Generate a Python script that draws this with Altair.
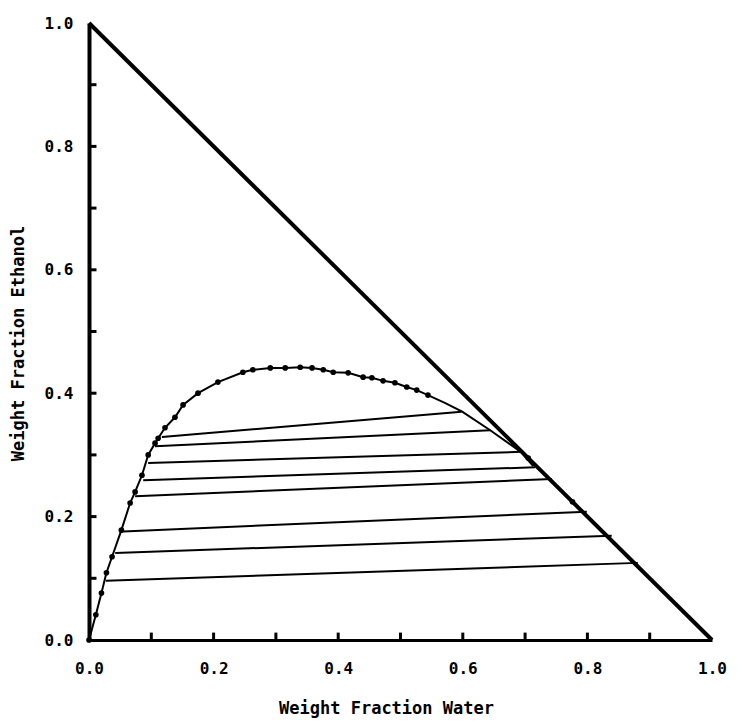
import altair as alt
import pandas as pd

# Binodal curve points (dotted)
dot_x = [0.000, 0.011, 0.020, 0.028, 0.037, 0.052, 0.066, 0.074, 0.085, 0.095,
         0.106, 0.111, 0.122, 0.138, 0.151, 0.175, 0.207, 0.247, 0.263, 0.291,
         0.315, 0.339, 0.358, 0.376, 0.392, 0.416, 0.440, 0.454, 0.472, 0.491,
         0.510, 0.526, 0.544]
dot_y = [0.000, 0.041, 0.076, 0.109, 0.135, 0.178, 0.222, 0.240, 0.267, 0.300,
         0.319, 0.327, 0.344, 0.361, 0.381, 0.400, 0.418, 0.434, 0.438, 0.441,
         0.441, 0.442, 0.441, 0.438, 0.434, 0.433, 0.426, 0.425, 0.420, 0.417,
         0.410, 0.405, 0.397]
# Rest of the curve (no dots) down to the water-rich edge
tail_x = [0.572, 0.599, 0.644, 0.693, 0.713]
tail_y = [0.384, 0.370, 0.340, 0.305, 0.282]
# Extra points on the water-rich edge
edge_dot_x = [0.705, 0.776]
edge_dot_y = [0.295, 0.224]

# Tie lines
tie_left_x = [0.117, 0.106, 0.095, 0.087, 0.074, 0.055, 0.042, 0.027]
tie_left_y = [0.329, 0.314, 0.287, 0.259, 0.233, 0.176, 0.141, 0.096]
tie_right_x = [0.598, 0.644, 0.695, 0.716, 0.743, 0.799, 0.839, 0.881]
tie_right_y = [0.370, 0.340, 0.305, 0.280, 0.261, 0.208, 0.169, 0.125]

# Triangle edge
edge_x = [0.0, 1.0]
edge_y = [1.0, 0.0]

label_values = [0.0, 0.2, 0.4, 0.6, 0.8, 1.0]
minor_ticks = [0.1, 0.2, 0.3, 0.4, 0.5, 0.6, 0.7, 0.8, 0.9]
tick_len = 0.012

FONT = "DejaVu Sans Mono"

curve_df = pd.DataFrame({
    "x": dot_x + tail_x,
    "y": dot_y + tail_y,
    "o": list(range(len(dot_x) + len(tail_x))),
})
dots_df = pd.DataFrame({"x": dot_x + edge_dot_x, "y": dot_y + edge_dot_y})
ties_df = pd.DataFrame({"x": tie_left_x, "y": tie_left_y,
                        "x2": tie_right_x, "y2": tie_right_y})
edge_df = pd.DataFrame({"x": edge_x, "y": edge_y, "o": [0, 1]})
xt_df = pd.DataFrame({"x": minor_ticks, "y": [0.0] * len(minor_ticks),
                      "y2": [tick_len] * len(minor_ticks)})
yt_df = pd.DataFrame({"y": minor_ticks, "x": [0.0] * len(minor_ticks),
                      "x2": [tick_len] * len(minor_ticks)})

xscale = alt.Scale(domain=[0, 1], nice=False)
yscale = alt.Scale(domain=[0, 1], nice=False)

xaxis = alt.Axis(values=label_values, format=".1f", ticks=False, tickSize=0,
                 grid=False, labelPadding=20, labelFlush=False,
                 title="Weight Fraction Water",
                 titlePadding=24, titleX=297, domainWidth=3)
yaxis = alt.Axis(values=label_values, format=".1f", ticks=False, tickSize=0,
                 grid=False, labelPadding=16, labelFlush=False,
                 title="Weight Fraction Ethanol",
                 titlePadding=17, titleY=320, domainWidth=4)

base_x = alt.X("x:Q", scale=xscale, axis=xaxis)
base_y = alt.Y("y:Q", scale=yscale, axis=yaxis)

edge = alt.Chart(edge_df).mark_line(color="black", strokeWidth=4).encode(
    x=base_x, y=base_y, order="o:Q")
curve = alt.Chart(curve_df).mark_line(color="black", strokeWidth=2).encode(
    x="x:Q", y="y:Q", order="o:Q")
dots = alt.Chart(dots_df).mark_circle(color="black", size=32, opacity=1).encode(
    x="x:Q", y="y:Q")
ties = alt.Chart(ties_df).mark_rule(color="black", strokeWidth=2).encode(
    x="x:Q", y="y:Q", x2="x2:Q", y2="y2:Q")
xticks = alt.Chart(xt_df).mark_rule(color="black", strokeWidth=3).encode(
    x="x:Q", y="y:Q", y2="y2:Q")
yticks = alt.Chart(yt_df).mark_rule(color="black", strokeWidth=3).encode(
    y="y:Q", x="x:Q", x2="x2:Q")

chart = alt.layer(edge, curve, ties, dots, xticks, yticks).properties(
    width=623, height=617,
    autosize=alt.AutoSizeParams(type="none"),
    padding={"left": 89, "top": 23, "right": 26, "bottom": 85},
    background="white",
).configure_view(stroke=None).configure_axis(
    labelFont=FONT, labelFontSize=16, labelFontWeight="bold", labelColor="black",
    titleFont=FONT, titleFontSize=17, titleFontWeight="bold", titleColor="black",
    domainColor="black",
)

chart.save("out.html", embed_options={"renderer": "svg", "actions": False})
